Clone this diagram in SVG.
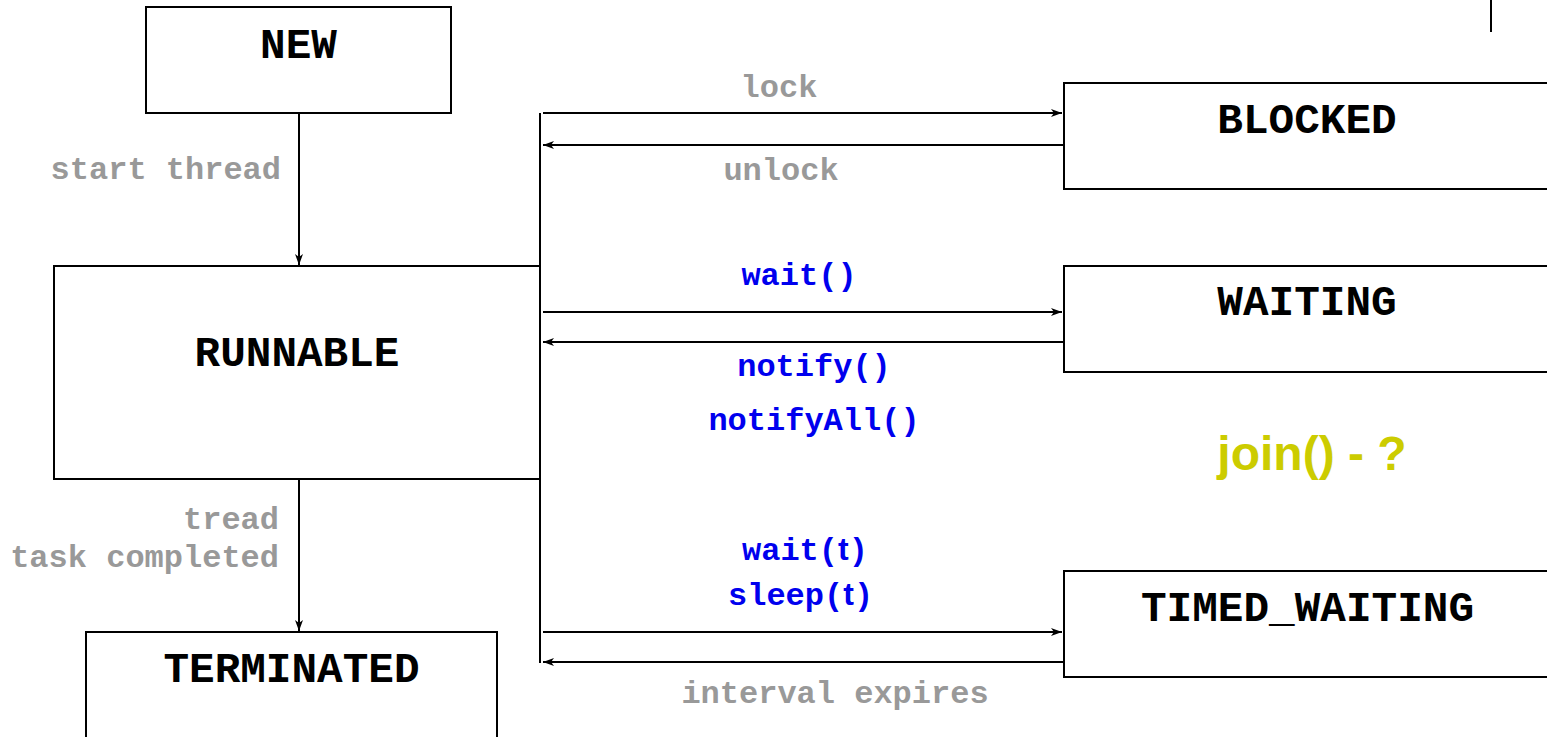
<svg xmlns="http://www.w3.org/2000/svg" width="1547" height="737" viewBox="0 0 1547 737">
<style>
.box{fill:#fff;stroke:#000;stroke-width:2}
.nl{font-family:"Liberation Mono","Courier New",monospace;font-weight:bold;font-size:42.7px;fill:#000;text-anchor:middle}
.el{font-family:"Liberation Mono","Courier New",monospace;font-weight:bold;font-size:32px}
.g{fill:#999}
.b{fill:#0000ee}
.s{font-family:"Liberation Sans",Arial,sans-serif}
.c{stroke:#000;stroke-width:2;fill:none}
.a{marker-end:url(#ah)}
</style>
<defs>
<marker id="ah" markerWidth="12" markerHeight="10" refX="11" refY="5" orient="auto" markerUnits="userSpaceOnUse">
<path d="M0,1 L11,5 L0,9 L3,5 z" fill="#000"/>
</marker>
</defs>
<rect width="1547" height="737" fill="#fff"/>
<line x1="1491" y1="0" x2="1491" y2="32" stroke="#000" stroke-width="2"/>
<g id="connectors">
<line class="c a" x1="299" y1="113" x2="299" y2="265"/>
<line class="c a" x1="299" y1="479" x2="299" y2="631"/>
<line class="c" x1="540" y1="113" x2="540" y2="663"/>
<line class="c a" x1="543" y1="113" x2="1062" y2="113"/>
<line class="c a" x1="1064" y1="145" x2="543" y2="145"/>
<line class="c a" x1="543" y1="312" x2="1062" y2="312"/>
<line class="c a" x1="1064" y1="342" x2="543" y2="342"/>
<line class="c a" x1="543" y1="632" x2="1062" y2="632"/>
<line class="c a" x1="1064" y1="662" x2="543" y2="662"/>
<text class="el g" x="281" y="179" text-anchor="end">start thread</text>
<text class="el g" x="279" y="529" text-anchor="end">tread</text>
<text class="el g" x="279" y="567" text-anchor="end">task completed</text>
<text class="el g" x="779" y="97" text-anchor="middle">lock</text>
<text class="el g" x="781" y="180" text-anchor="middle">unlock</text>
<text class="el b" x="799" y="285" text-anchor="middle">wait()</text>
<text class="el b" x="814" y="376" text-anchor="middle">notify()</text>
<text class="el b" x="814" y="430" text-anchor="middle">notifyAll()</text>
<text class="el b" x="742" y="560">wait(<tspan class="s">t</tspan>)</text>
<text class="el b" x="728" y="605">sleep(<tspan class="s">t</tspan>)</text>
<text class="el g" x="835" y="703" text-anchor="middle">interval expires</text>
</g>
<g id="new"><rect class="box" x="146" y="7" width="305" height="106"/><text class="nl" x="298.5" y="58">NEW</text></g>
<g id="runnable"><rect class="box" x="54" y="266" width="486" height="213"/><text class="nl" x="297" y="366">RUNNABLE</text></g>
<g id="terminated"><rect class="box" x="86" y="632" width="411" height="130"/><text class="nl" x="291.5" y="682">TERMINATED</text></g>
<g id="blocked"><rect class="box" x="1064" y="83" width="490" height="106"/><text class="nl" x="1307" y="133">BLOCKED</text></g>
<g id="waiting"><rect class="box" x="1064" y="266" width="490" height="106"/><text class="nl" x="1307" y="315">WAITING</text></g>
<g id="timed_waiting"><rect class="box" x="1064" y="571" width="490" height="106"/><text class="nl" x="1307.5" y="621">TIMED_WAITING</text></g>
<g id="join"><text x="1312" y="470" font-family="Liberation Sans, Arial, sans-serif" font-weight="bold" font-size="48" fill="#cccc00" text-anchor="middle">join() - ?</text></g>
</svg>
